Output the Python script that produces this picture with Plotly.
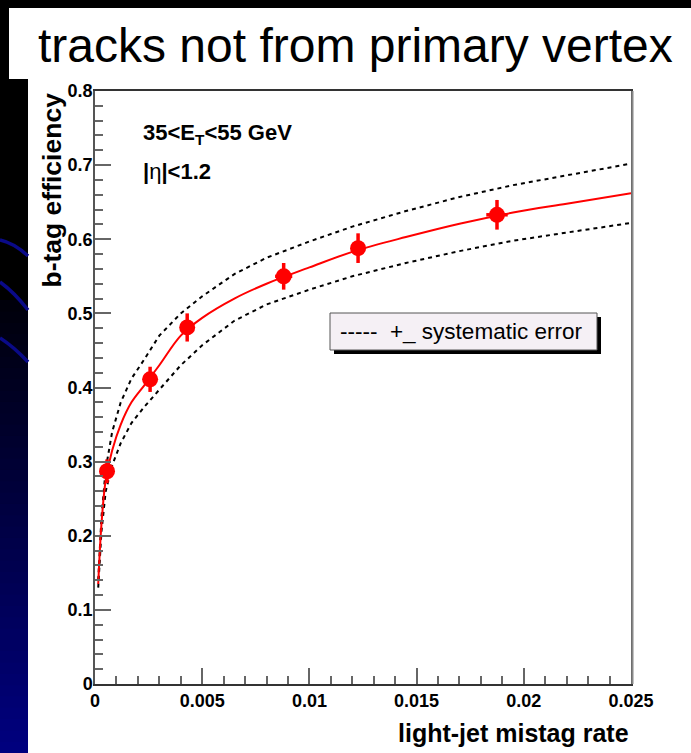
import plotly.graph_objects as go

# Measured b-tag efficiency vs light-jet mistag rate
mistag = [0.00056, 0.00257, 0.00430, 0.00880, 0.01227, 0.01875]
eff = [0.287, 0.411, 0.481, 0.550, 0.588, 0.633]
eff_err = [0.016, 0.017, 0.019, 0.018, 0.020, 0.020]
mistag_err = [0.00005, 0.0001, 0.00015, 0.0004, 0.0003, 0.0005]

# Fitted curve and +/- systematic band
curve_x = [0.00015, 0.0003, 0.0005, 0.0008, 0.0012, 0.0017, 0.0023, 0.003, 0.004,
           0.005, 0.0065, 0.008, 0.01, 0.012, 0.0145, 0.017, 0.0195, 0.022, 0.025]
fit = [0.135, 0.215, 0.275, 0.315, 0.350, 0.380, 0.403, 0.430, 0.470,
       0.494, 0.520, 0.540, 0.562, 0.583, 0.603, 0.621, 0.636, 0.648, 0.662]
sys_up = [0.140, 0.225, 0.290, 0.340, 0.380, 0.412, 0.438, 0.470, 0.500,
          0.523, 0.553, 0.575, 0.597, 0.617, 0.638, 0.657, 0.673, 0.686, 0.702]
sys_down = [0.130, 0.205, 0.260, 0.295, 0.325, 0.352, 0.374, 0.397, 0.430,
            0.457, 0.490, 0.512, 0.532, 0.550, 0.568, 0.584, 0.598, 0.609, 0.622]

x_ticks = [0, 0.005, 0.01, 0.015, 0.02, 0.025]
x_ticklabels = ["0", "0.005", "0.01", "0.015", "0.02", "0.025"]
y_ticks = [0, 0.1, 0.2, 0.3, 0.4, 0.5, 0.6, 0.7, 0.8]
y_ticklabels = ["0", "0.1", "0.2", "0.3", "0.4", "0.5", "0.6", "0.7", "0.8"]

W, H = 691, 753
L, R, T, B = 95, 60, 91, 69
PW, PH = W - L - R, H - T - B


def px(x):
    return (x - L) / PW


def py(y):
    return (H - B - y) / PH


FONT = "Liberation Sans, Arial, Helvetica, sans-serif"

fig = go.Figure()

for ys in (sys_up, sys_down):
    fig.add_trace(go.Scatter(
        x=curve_x, y=ys, mode="lines",
        line=dict(color="black", width=2, dash="4px,4px"),
        hoverinfo="skip", showlegend=False))

fig.add_trace(go.Scatter(
    x=curve_x, y=fit, mode="lines", line=dict(color="#ff0000", width=2),
    line_shape="spline", showlegend=False))

fig.add_trace(go.Scatter(
    x=mistag, y=eff, mode="markers",
    marker=dict(color="#ff0000", size=16, symbol="circle"),
    error_y=dict(type="data", array=eff_err, color="#ff0000", thickness=3.5, width=0),
    error_x=dict(type="data", array=mistag_err, color="#ff0000", thickness=3.5, width=0),
    showlegend=False))

shapes = []
# Slide background pieces
shapes.append(dict(type="rect", xref="paper", yref="paper", x0=px(9), x1=px(W + 5),
                   y0=py(79), y1=py(8), fillcolor="white", line_width=0, layer="below"))
shapes.append(dict(type="rect", xref="paper", yref="paper", x0=px(28), x1=px(W + 5),
                   y0=py(H + 5), y1=py(79), fillcolor="white", line_width=0, layer="below"))
# Left strip: black fading into navy toward the bottom
n_bands = 40
top, bottom = 300, H
for i in range(n_bands):
    y0 = top + (bottom - top) * i / n_bands
    y1 = top + (bottom - top) * (i + 1) / n_bands + 1
    f = (i + 0.5) / n_bands
    col = "rgb(0,0,%d)" % int(10 + 118 * f)
    shapes.append(dict(type="rect", xref="paper", yref="paper", x0=px(-2), x1=px(28),
                       y0=py(y1), y1=py(y0), fillcolor=col, line_width=0, layer="below"))
# Blue swooshes in the strip
for (a, b, c) in [((0, 240), (14, 243), (28, 256)),
                  ((0, 282), (14, 292), (28, 310)),
                  ((0, 338), (14, 347), (28, 362))]:
    path = "M %f,%f Q %f,%f %f,%f" % (px(a[0]), py(a[1]), px(b[0]), py(b[1]), px(c[0]), py(c[1]))
    shapes.append(dict(type="path", xref="paper", yref="paper", path=path,
                       line=dict(color="#0a0a88", width=3.5), layer="below"))

# Frame shading on the right edge
shapes.append(dict(type="line", xref="paper", yref="paper", x0=px(632.5), x1=px(632.5),
                   y0=py(684), y1=py(91), line=dict(color="#888888", width=2)))

# Legend box with drop shadow
shapes.append(dict(type="rect", xref="paper", yref="paper", x0=px(334), x1=px(601),
                   y0=py(354), y1=py(317), fillcolor="black", line_width=0))
shapes.append(dict(type="rect", xref="paper", yref="paper", x0=px(330), x1=px(597),
                   y0=py(350), y1=py(313), fillcolor="#f5f0f5",
                   line=dict(color="#555555", width=1)))

annotations = [
    dict(text="tracks not from primary vertex", xref="paper", yref="paper",
         x=px(36), y=py(45), xanchor="left", yanchor="middle", showarrow=False,
         font=dict(family=FONT, size=48, color="black")),
    dict(text="<b>35&lt;E<sub>T</sub>&lt;55 GeV</b>", xref="paper", yref="paper",
         x=px(141), y=py(134), xanchor="left", yanchor="middle", showarrow=False,
         font=dict(family=FONT, size=22, color="black")),
    dict(text="<b>|</b>η<b>|&lt;1.2</b>", xref="paper", yref="paper",
         x=px(141), y=py(171), xanchor="left", yanchor="middle", showarrow=False,
         font=dict(family=FONT, size=22, color="black")),
    dict(text="-----  +_ systematic error", xref="paper", yref="paper",
         x=px(338), y=py(331), xanchor="left", yanchor="middle", showarrow=False,
         font=dict(family=FONT, size=22.5, color="black")),
    dict(text="<b>b-tag efficiency</b>", xref="paper", yref="paper",
         x=px(51), y=py(91), xanchor="center", yanchor="top", textangle=-90,
         showarrow=False, font=dict(family=FONT, size=26.5, color="black")),
    dict(text="<b>light-jet mistag rate</b>", xref="paper", yref="paper",
         x=px(631), y=py(733), xanchor="right", yanchor="middle",
         showarrow=False, font=dict(family=FONT, size=25, color="black")),
]

tickfont = dict(family=FONT, size=18, color="black", weight="bold")

fig.update_layout(
    width=W, height=H, autosize=False,
    margin=dict(l=L, r=R, t=T, b=B, pad=0),
    paper_bgcolor="black", plot_bgcolor="rgba(0,0,0,0)",
    shapes=shapes, annotations=annotations, showlegend=False,
    xaxis=dict(range=[0, 0.025], tickvals=x_ticks, ticktext=x_ticklabels,
               ticks="inside", ticklen=16, tickwidth=1.5, tickcolor="#666666",
               minor=dict(ticks="inside", ticklen=8, dtick=0.001, tickcolor="#666666", tickwidth=1.5),
               showgrid=False, zeroline=False, showline=True, linecolor="#333333",
               linewidth=1.5, mirror=True, tickfont=tickfont),
    yaxis=dict(range=[0, 0.8], tickvals=y_ticks, ticktext=y_ticklabels,
               ticks="inside", ticklen=16, tickwidth=1.5, tickcolor="#666666",
               minor=dict(ticks="inside", ticklen=8, dtick=0.02, tickcolor="#666666", tickwidth=1.5),
               showgrid=False, zeroline=False, showline=True, linecolor="#555555",
               linewidth=1.5, mirror=True, tickfont=tickfont, ticklabelstandoff=-3),
)

fig.write_html("out.html")
